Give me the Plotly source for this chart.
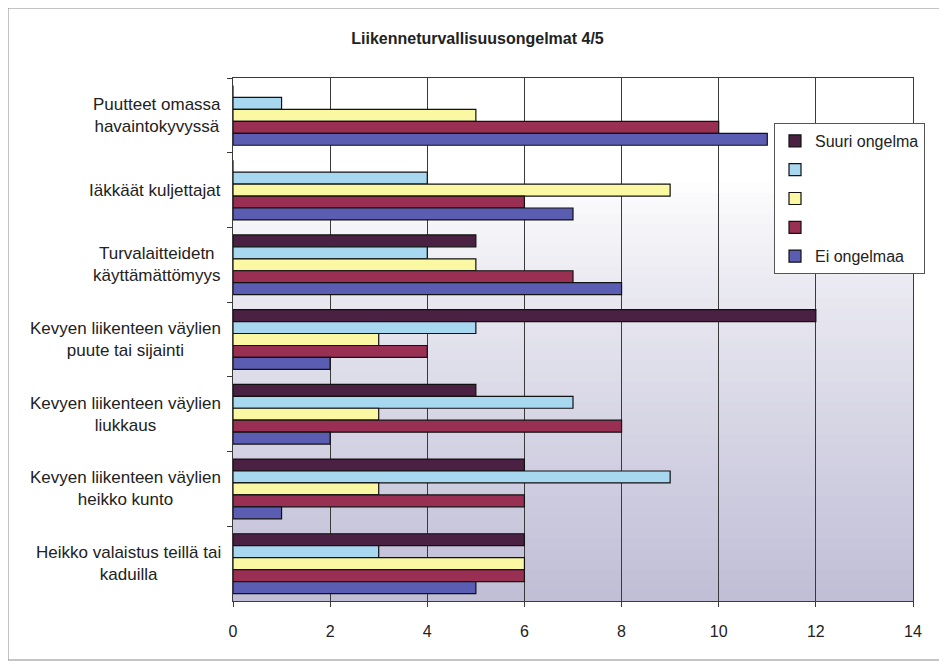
import plotly.graph_objects as go

categories = [
    "Puutteet omassa<br>havaintokyvyssä",
    "Iäkkäät kuljettajat",
    "Turvalaitteidetn<br>käyttämättömyys",
    "Kevyen liikenteen väylien<br>puute tai sijainti",
    "Kevyen liikenteen väylien<br>liukkaus",
    "Kevyen liikenteen väylien<br>heikko kunto",
    "Heikko valaistus teillä tai<br>kaduilla",
]
series_names = ["Suuri ongelma", " ", "  ", "   ", "Ei ongelmaa"]
suuri_ongelma = [0, 0, 5, 12, 5, 6, 6]
series_2 = [1, 4, 4, 5, 7, 9, 3]
series_3 = [5, 9, 5, 3, 3, 3, 6]
series_4 = [10, 6, 7, 4, 8, 6, 6]
ei_ongelmaa = [11, 7, 8, 2, 2, 1, 5]
x_ticks = [0, 2, 4, 6, 8, 10, 12, 14]
title_text = "Liikenneturvallisuusongelmat 4/5"

colors = ["#4a2142", "#a8d8f0", "#fbf8a4", "#9a2f54", "#5b5db2"]
values = [suuri_ongelma, series_2, series_3, series_4, ei_ongelmaa]

FONT = "Liberation Sans, Arial, sans-serif"
W, H = 939, 659
L, R, T, B = 225, 34, 70, 66
PW, PH = W - L - R, H - T - B

fig = go.Figure()
for i, (name, vals, col) in enumerate(zip(series_names, values, colors)):
    fig.add_trace(go.Bar(
        y=categories, x=vals, name=name, orientation="h",
        marker=dict(color=col, line=dict(color="#111111", width=1.2)),
        legendgroup="g%d" % i,
    ))

# background gradient (white at top to grey-lavender at bottom)
shapes = []
n = 40
top_frac = 0.8
c0 = (255, 255, 255)
c1 = (192, 190, 214)
for k in range(n):
    y0 = top_frac * k / n
    y1 = top_frac * (k + 1) / n
    t = 1 - (k + 0.5) / n
    t = t ** 0.8
    col = tuple(int(round(c0[j] + (c1[j] - c0[j]) * t)) for j in range(3))
    shapes.append(dict(type="rect", xref="paper", yref="paper", x0=0, x1=1,
                       y0=y0, y1=y1 + 0.002, fillcolor="rgb(%d,%d,%d)" % col,
                       line=dict(width=0), layer="below"))
# outer chart border
shapes.append(dict(type="rect", xref="paper", yref="paper",
                   x0=(0 - L) / PW, x1=(933 - L) / PW,
                   y0=(T + PH - 652) / PH, y1=(T + PH - 0) / PH,
                   line=dict(color="#8a8a8a", width=1), fillcolor="rgba(0,0,0,0)",
                   layer="below"))

annotations = []
for c in categories:
    annotations.append(dict(
        text=c, x=-10 / PW, xref="paper", y=c, yref="y", xanchor="right",
        yanchor="middle", align="center", showarrow=False,
        font=dict(family=FONT, size=17, color="#222222"),
    ))

fig.update_layout(
    width=W, height=H,
    margin=dict(l=L, r=R, t=T, b=B),
    paper_bgcolor="white", plot_bgcolor="white",
    barmode="group", bargap=0.2, bargroupgap=0,
    title=dict(text="<b>" + title_text + "</b>", x=0.5, xref="container", xanchor="center",
               y=1 - 30 / H, yanchor="middle",
               font=dict(family=FONT, size=16, color="#222222")),
    font=dict(family=FONT, size=16, color="#222222"),
    xaxis=dict(range=[0, 14], tickvals=x_ticks, showgrid=True, gridcolor="#3a3a3a",
               gridwidth=1, zeroline=False, showline=True, linecolor="#3a3a3a",
               linewidth=1, mirror=True, ticks="outside", ticklen=5, tickcolor="#3a3a3a",
               ticklabelstandoff=11, tickfont=dict(size=16, color="#222222")),
    yaxis=dict(range=[6.5, -0.5], type="category", showgrid=False, showline=True,
               linecolor="#3a3a3a", linewidth=1, mirror=True, ticks="outside",
               ticklen=5, tickcolor="#3a3a3a", tickson="boundaries",
               showticklabels=False),
    legend=dict(x=(917 - L) / PW, y=(T + PH - 115) / PH, xanchor="right", yanchor="top",
                bgcolor="white", bordercolor="#555555", borderwidth=1,
                font=dict(size=16, color="#222222"), tracegroupgap=5,
                traceorder="grouped"),
    shapes=shapes,
    annotations=annotations,
)

fig.write_html("out.html")
